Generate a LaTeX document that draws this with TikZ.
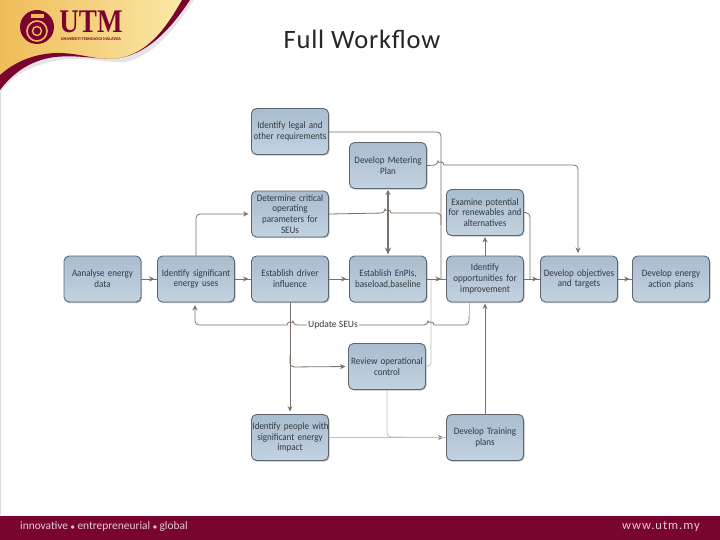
\documentclass[tikz,border=0pt]{standalone}
\usepackage{fontspec}
\usepackage{graphicx}
\setmainfont{Carlito}
\newfontfamily\serifb{Liberation Serif}
\newfontfamily\boxf[FakeStretch=.92]{Carlito}
\usetikzlibrary{arrows.meta,shadows,calc}
\definecolor{mar}{HTML}{7A0430}
\definecolor{ln}{HTML}{7C716B}
\definecolor{lnl}{HTML}{C4BEB9}
\definecolor{boxa}{HTML}{A9BDD0}
\definecolor{boxb}{HTML}{C2D2E0}
\definecolor{boxd}{HTML}{5E6670}
\definecolor{txt}{HTML}{33383E}
\definecolor{golda}{HTML}{F0BC58}
\definecolor{goldb}{HTML}{FBE8A6}
\tikzset{
 x=1pt,y=-1pt,
 wbox/.style={draw=boxd,line width=.9pt,rounded corners=5pt,top color=boxa,bottom color=boxb,
   minimum width=77pt,minimum height=46pt,inner sep=1pt,align=center,text width=75pt,
   font=\boxf\fontsize{9.8}{10.8}\selectfont,text=txt,
   drop shadow={shadow xshift=1pt,shadow yshift=-1.2pt,fill=black,opacity=.25}},
 conn/.style={draw=ln,line width=.8pt,rounded corners=4pt},
 connl/.style={draw=lnl,line width=.8pt,rounded corners=4pt},
 tip/.style={-{Stealth[length=5.5pt,width=5pt,color=ln]},shorten >=2.5pt},
 foot/.style={text=white!80!mar,inner sep=0pt},
}
\newcommand{\lnk}[3][conn]{\draw[#1] (#2) -- (#3);\draw[#1,tip] (#2) -- (#3);}
\begin{document}
\begin{tikzpicture}
\useasboundingbox (0,0) rectangle (720,540);
\fill[white] (0,0) rectangle (720,540);
\draw[black!15,line width=.6pt] (.3,0) -- (.3,515);
% header swoosh
\fill[black!10] (0,94) .. controls (8,80) and (25,66) .. (60,60) .. controls (85,56) and (100,63) .. (125,62)
  .. controls (150,58) and (175,30) .. (194,0) -- (181,0) -- (0,0) -- cycle;
\path[left color=golda,right color=goldb]
  (0,0) -- (182,0) .. controls (165,30) and (145,58) .. (110,59) .. controls (90,59) and (70,50) .. (45,54)
  .. controls (25,57) and (10,66) .. (0,75) -- cycle;
\fill[mar] (0,75) .. controls (10,66) and (25,57) .. (45,54) .. controls (70,50) and (90,59) .. (110,59)
  .. controls (145,58) and (165,30) .. (182,0) -- (190,0)
  .. controls (170,30) and (145,58) .. (110,59) .. controls (90,58) and (75,55) .. (55,57)
  .. controls (30,60) and (12,74) .. (0,90) -- cycle;
% logo
\node[circle,fill=mar,minimum size=34pt,inner sep=0pt] (logo) at (37,27) {};
\node[circle,draw=golda,line width=1.6pt,minimum size=20pt,inner sep=0pt] (ringa) at (37,31) {};
\node[circle,draw=golda,line width=1.4pt,minimum size=9pt,inner sep=0pt] (ringb) at (37,31) {};
\node[fill=golda,minimum width=13pt,minimum height=4pt,inner sep=0pt] (logobar) at (37,16) {};
\node[inner sep=0pt,text=mar,anchor=base] (utm) at (91,33) {\scalebox{.82}[1]{\serifb\bfseries\fontsize{33}{33}\selectfont\smash{UTM}}};
\node[inner sep=0pt,text=mar,anchor=base] (utmsub) at (91,40.5) {\bfseries\fontsize{4.2}{4.2}\selectfont UNIVERSITI TEKNOLOGI MALAYSIA};
% title
\node[inner sep=0pt,text=black!85] (title) at (362,39) {\fontsize{26.5}{28}\selectfont\addfontfeature{LetterSpace=3}Full Workflow};
% footer
\fill[mar] (0,515.5) rectangle (720,540);
\node[foot,anchor=west] (slog) at (20,527) {\fontsize{11.4}{12}\selectfont innovative \raisebox{.6pt}{\fontsize{7}{7}\selectfont ●} entrepreneurial \raisebox{.6pt}{\fontsize{7}{7}\selectfont ●} global};
\node[foot,anchor=east] (web) at (700,527) {\fontsize{12.5}{12}\selectfont\addfontfeature{LetterSpace=8}www.utm.my};
% boxes
\node[wbox] (legal) at (290,131.5) {Identify legal and\\other requirements};
\node[wbox] (meter) at (388,165.5) {Develop Metering\\Plan};
\node[wbox] (crit) at (290,214) {Determine critical\\operating\\parameters for\\SEUs};
\node[wbox] (exam) at (485,212.5) {Examine potential\\for renewables and\\alternatives};
\node[wbox] (ana) at (102.5,279) {Aanalyse energy\\data};
\node[wbox] (sig) at (196,279) {Identify significant\\energy uses};
\node[wbox] (drv) at (290,279) {Establish driver\\influence};
\node[wbox] (enp) at (388,279) {Establish EnPIs,\\baseload,baseline};
\node[wbox] (opp) at (485,279) {Identify\\opportunities for\\improvement};
\node[wbox] (obj) at (579,279) {Develop objectives\\and targets};
\node[wbox] (act) at (671,279) {Develop energy\\action plans};
\node[wbox] (rev) at (387,366.5) {Review operational\\control};
\node[wbox] (ppl) at (290,437.5) {\mbox{Identify people with}\\significant energy\\impact};
\node[wbox] (trn) at (485,437.5) {Develop Training\\plans};
% junction points
\coordinate (jr) at (431,279);
\coordinate (ju) at (441,279);
\coordinate (jo) at (530,279);
% light connectors
\draw[connl] (rev.east) -- ++(5,0) -- (jr);
\lnk[connl]{ppl.east}{trn.west}
\draw[connl] (rev.south) -- (387,437) -- (trn.west);
% straight connectors
\lnk{ana}{sig}
\lnk{sig}{drv}
\lnk{drv}{enp}
\draw[conn] (enp) -- (opp);
\draw[conn,tip,shorten >=0pt] (enp) -- (ju);
\draw[conn] (opp) -- (obj);
\draw[conn,tip] (opp) -- (obj);
\lnk{obj}{act}
\draw[conn,tip,line width=1pt,shorten >=1pt] (opp) -- (exam);
\draw[conn,tip,line width=1pt,shorten >=1pt] (trn.north) -- (opp.south);
\draw[conn,{Stealth[length=5pt,width=5pt]}-{Stealth[length=7pt,width=6pt]},line width=1.2pt,shorten >=1pt,shorten <=1pt] (meter) -- (enp);
\draw[conn,tip] (sig.north) |- (crit.west);
% to the junction
\draw[conn] (legal.east |- 0,132) -- (441,132) -- (ju);
\draw[conn] (crit.east) -- (385,213) [rounded corners=0pt] arc[start angle=180,end angle=360,radius=3] [rounded corners=4pt] -- (441,213) -- (441,225);
\draw[conn,tip] (meter.east) -- (438,165) [rounded corners=0pt] arc[start angle=180,end angle=360,radius=3] [rounded corners=4pt] -- (578,165) -- (obj.north -| 578,0);
\draw[conn] (exam.east) -- (530,213) -- (jo);
% driver down
\draw[conn,tip] (drv.south) -- (ppl.north);
\draw[conn,tip] (290,355) -- (290,367) -- (rev.west);
% update SEUs
\node[inner sep=1pt,font=\fontsize{9.6}{11}\selectfont,text=txt,fill=white] (upd) at (333,325) {Update SEUs};
\draw[conn,tip] (upd.west) -- (293,325) [rounded corners=0pt] arc[start angle=0,end angle=-180,radius=3] [rounded corners=4pt] -- (195,325) -- (195,302.5);
\draw[conn] (upd.east) -- (428,325) [rounded corners=0pt] arc[start angle=180,end angle=360,radius=3] [rounded corners=4pt] -- (469,325) -- (469,316);
\draw[connl] (469,316) -- (469,302.5);
\end{tikzpicture}
\end{document}
